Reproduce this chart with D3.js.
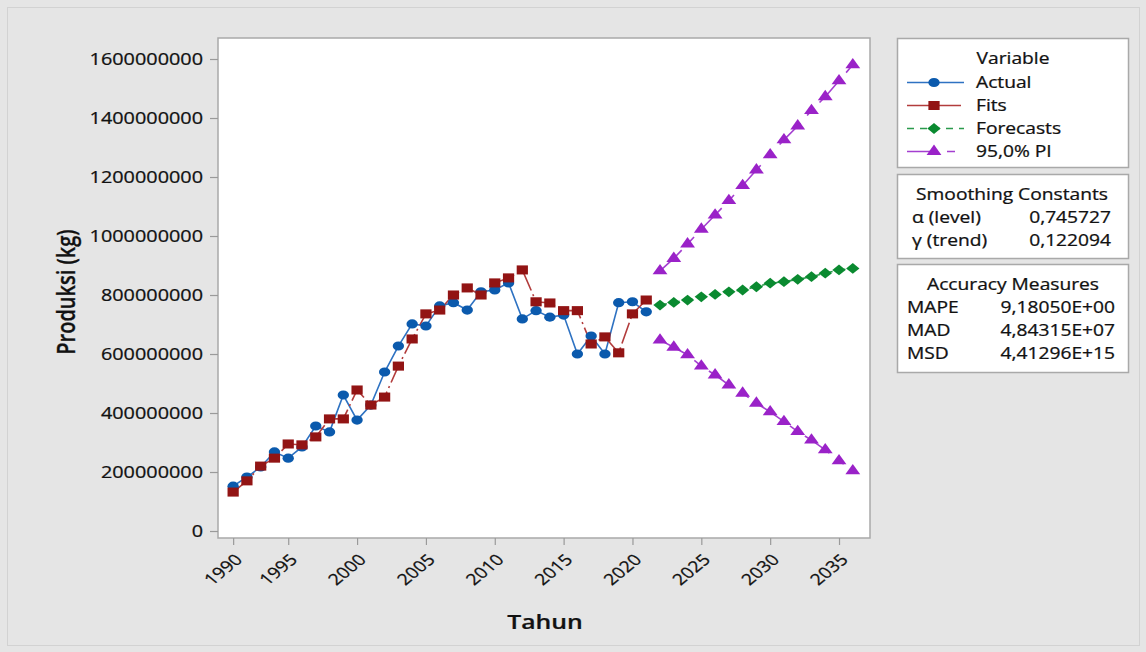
<!DOCTYPE html>
<html>
<head>
<meta charset="utf-8">
<script src="https://cdn.jsdelivr.net/npm/d3@7"></script>
<style>
  html, body { margin: 0; padding: 0; background: #e5e5e5; }
  svg { display: block; font-family: "Open Sans", "Noto Sans", sans-serif; }
</style>
</head>
<body>
<svg id="chart" width="1146" height="652"></svg>
<script>
// Production (kg), Holt double exponential smoothing: values in millions of kg
const UNIT = 1e6;
const actualValues = [152, 183, 217, 268, 247, 285, 356, 336, 461, 376, 427, 539, 627, 702, 695,
  763, 774, 749, 811, 817, 841, 719, 747, 725, 732, 600, 661, 600, 774, 777, 743];
const fitValues = [132, 170, 220, 247, 295, 292, 319, 380, 380, 478, 427, 454, 559, 651, 736,
  749, 800, 824, 800, 841, 858, 885, 777, 773, 747, 747, 634, 658, 604, 736, 783];
const forecastValues = [766, 775, 783, 794, 802, 811, 817, 828, 840, 845, 853, 862, 874, 885, 890];
const upperPI = [882, 924, 973, 1023, 1071, 1120, 1171, 1224, 1275, 1326, 1373, 1425, 1472, 1526, 1580];
const lowerPI = [647, 623, 597, 559, 529, 495, 467, 433, 404, 371, 337, 308, 275, 238, 204];

// Time axis is indexed by period; labels stamped with years
const tickPeriods = [1, 5, 10, 15, 20, 25, 30, 35, 40, 45];
const tickLabels = ["1990", "1995", "2000", "2005", "2010", "2015", "2020", "2025", "2030", "2035"];
const yTickValues = [0, 200, 400, 600, 800, 1000, 1200, 1400, 1600];

const seriesNames = ["Actual", "Fits", "Forecasts", "95,0% PI"];
const smoothingLabels = ["\u03b1 (level)", "\u03b3 (trend)"];
const smoothingValues = ["0,745727", "0,122094"];
const accuracyLabels = ["MAPE", "MAD", "MSD"];
const accuracyValues = ["9,18050E+00", "4,84315E+07", "4,41296E+15"];

// horizontal stretch of all lettering and markers
const SX = 1.24;
const INK = "#111111";

const colors = {
  actualLine: "#2e72c2", actual: "#0b5aad",
  fitLine: "#b23c3c", fit: "#921414",
  fcLine: "#2b9a4c", fc: "#0a8a30",
  piLine: "#a43fd0", pi: "#9a22c8"
};

const svg = d3.select("#chart");

// outer panel
svg.append("rect").attr("x", 7.5).attr("y", 7.5).attr("width", 1132).attr("height", 638)
  .attr("fill", "#e5e5e5").attr("stroke", "#d2d2d2");

const plot = { left: 218, right: 870, top: 38, bottom: 538 };

const x = d3.scaleLinear().domain([-0.1, 47.25]).range([plot.left, plot.right]);
const y = d3.scaleLinear().domain([-23.7, 1671.2]).range([plot.bottom, plot.top]);

svg.append("rect")
  .attr("x", plot.left).attr("y", plot.top)
  .attr("width", plot.right - plot.left).attr("height", plot.bottom - plot.top)
  .attr("fill", "#ffffff").attr("stroke", "#a9a9a9").attr("stroke-width", 1.5);

function stretchedText(parent, px, py, str, o = {}) {
  const g = parent.append("g")
    .attr("transform", `translate(${px},${py}) scale(${SX},1)` + (o.rotate ? ` rotate(${o.rotate})` : ""));
  return g.append("text").text(str)
    .attr("text-anchor", o.anchor || "start")
    .attr("dy", o.dy || "0.35em")
    .attr("font-size", o.size || 15.5)
    .attr("font-weight", o.weight || 400)
    .attr("fill", INK).attr("stroke", INK).attr("stroke-width", 0.25);
}

// Y axis
const yAxis = svg.append("g").attr("transform", `translate(${plot.left},0)`)
  .call(d3.axisLeft(y).tickValues(yTickValues).tickSize(8).tickFormat(d => String(d * UNIT)));
yAxis.select(".domain").remove();
yAxis.selectAll(".tick line").attr("stroke", "#9a9a9a").attr("stroke-width", 1.2);
yAxis.selectAll(".tick text").each(function () {
  d3.select(this).attr("x", 0).attr("dy", "0.36em")
    .attr("transform", `translate(-15,0) scale(${SX},1)`)
    .attr("font-size", 16).attr("font-family", "'Open Sans', sans-serif")
    .attr("fill", INK).attr("stroke", INK).attr("stroke-width", 0.25);
});

// X axis
const xAxis = svg.append("g").attr("transform", `translate(0,${plot.bottom})`)
  .call(d3.axisBottom(x).tickValues(tickPeriods).tickSize(7)
    .tickFormat((d, i) => tickLabels[i]));
xAxis.select(".domain").remove();
xAxis.selectAll(".tick line").attr("stroke", "#9a9a9a").attr("stroke-width", 1.2);
xAxis.selectAll(".tick text").each(function () {
  d3.select(this).attr("x", 0).attr("y", 0).attr("dy", "0.35em")
    .attr("text-anchor", "end")
    .attr("transform", `translate(5,19) scale(${SX},1) rotate(-45)`)
    .attr("font-size", 15.5).attr("font-family", "'Open Sans', sans-serif")
    .attr("fill", INK).attr("stroke", INK).attr("stroke-width", 0.25);
});

// axis titles
stretchedText(svg, 545, 622, "Tahun", { anchor: "middle", size: 20, weight: 600 });
stretchedText(svg, 66, 292, "Produksi (kg)", { anchor: "middle", size: 20, rotate: -90, weight: 600 });

// series data
const actualPts = actualValues.map((v, i) => ({ p: i + 1, v }));
const fitPts = fitValues.map((v, i) => ({ p: i + 1, v }));
const start = actualValues.length + 1;
const fcPts = forecastValues.map((v, i) => ({ p: start + i, v }));
const upPts = upperPI.map((v, i) => ({ p: start + i, v }));
const loPts = lowerPI.map((v, i) => ({ p: start + i, v }));

const line = d3.line().x(d => x(d.p)).y(d => y(d.v));

const dashes = { fit: "22,4,2,4", fc: "7,6", pi: "30,10,8,10" };

function drawLine(data, color, dash) {
  svg.append("path").datum(data).attr("d", line)
    .attr("fill", "none").attr("stroke", color).attr("stroke-width", 1.6)
    .attr("stroke-dasharray", dash || null);
}

const shapes = {
  circle: d3.symbol().type(d3.symbolCircle).size(66)(),
  square: d3.symbol().type(d3.symbolSquare).size(82)(),
  diamond: d3.symbol().type(d3.symbolSquare).size(58)(),
  triangle: d3.symbol().type(d3.symbolTriangle).size(62)()
};

function markerTransform(px, py, kind) {
  return `translate(${px},${py}) scale(${SX},1)` + (kind === "diamond" ? " rotate(45)" : "");
}

function drawMarkers(data, kind, color) {
  svg.append("g").selectAll("path").data(data).join("path")
    .attr("d", shapes[kind])
    .attr("transform", d => markerTransform(x(d.p), y(d.v), kind))
    .attr("fill", color);
}

drawLine(actualPts, colors.actualLine);
drawLine(fitPts, colors.fitLine, dashes.fit);
drawLine(fcPts, colors.fcLine, dashes.fc);
drawLine(upPts, colors.piLine, dashes.pi);
drawLine(loPts, colors.piLine, dashes.pi);

drawMarkers(actualPts, "circle", colors.actual);
drawMarkers(fitPts, "square", colors.fit);
drawMarkers(fcPts, "diamond", colors.fc);
drawMarkers(upPts, "triangle", colors.pi);
drawMarkers(loPts, "triangle", colors.pi);

// legend panels
function panel(y0, h) {
  svg.append("rect").attr("x", 897.5).attr("y", y0).attr("width", 231).attr("height", h)
    .attr("fill", "#ffffff").attr("stroke", "#a9a9a9").attr("stroke-width", 1.5);
}
panel(38.5, 129);
panel(174.5, 84);
panel(264.5, 108);

stretchedText(svg, 1013, 59, "Variable", { anchor: "middle" });
const legendKinds = [
  { kind: "circle", line: colors.actualLine, mark: colors.actual, dash: null },
  { kind: "square", line: colors.fitLine, mark: colors.fit, dash: dashes.fit },
  { kind: "diamond", line: colors.fcLine, mark: colors.fc, dash: dashes.fc },
  { kind: "triangle", line: colors.piLine, mark: colors.pi, dash: dashes.pi }
];
seriesNames.forEach((name, i) => {
  const ly = 82.5 + i * 23;
  const k = legendKinds[i];
  svg.append("line").attr("x1", 907).attr("x2", 964).attr("y1", ly).attr("y2", ly)
    .attr("stroke", k.line).attr("stroke-width", 1.6).attr("stroke-dasharray", k.dash);
  svg.append("path").attr("d", shapes[k.kind])
    .attr("transform", markerTransform(934, ly, k.kind)).attr("fill", k.mark);
  stretchedText(svg, 976, ly, name);
});

stretchedText(svg, 1012, 195, "Smoothing Constants", { anchor: "middle" });
smoothingLabels.forEach((lab, i) => {
  const ly = 218 + i * 23;
  stretchedText(svg, 912, ly, lab);
  stretchedText(svg, 1111, ly, smoothingValues[i], { anchor: "end" });
});

stretchedText(svg, 1013, 285, "Accuracy Measures", { anchor: "middle" });
accuracyLabels.forEach((lab, i) => {
  const ly = 308 + i * 23;
  stretchedText(svg, 907, ly, lab);
  stretchedText(svg, 1115, ly, accuracyValues[i], { anchor: "end" });
});
</script>
</body>
</html>
